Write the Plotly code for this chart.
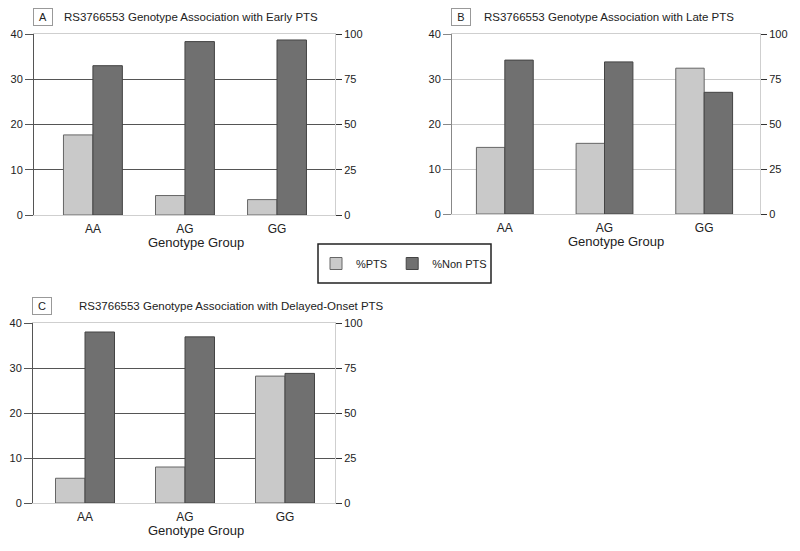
import plotly.graph_objects as go

genotypes = ["AA", "AG", "GG"]
early_pts = [17.7, 4.3, 3.4]
early_non = [82.5, 95.8, 96.7]
late_pts = [14.8, 15.7, 32.4]
late_non = [85.5, 84.5, 67.6]
delayed_pts = [5.5, 8.0, 28.2]
delayed_non = [95.0, 92.3, 72.0]
left_ticks = [0, 10, 20, 30, 40]
right_ticks = [0, 25, 50, 75, 100]

W, H = 800, 551
OFF = 8  # page body margin
light = "#c9c9c9"
dark = "#707070"
font = "Liberation Sans, Arial, sans-serif"


def px(v):
    return (v - OFF) / W


def py(v):
    return 1 - (v - OFF) / H


# panels: (x axis, left y, right y, pixel box, x range, bar width, grid colour, axis colour, letter, title, ..., title offset)
panels = [
    ("x", "y", "y2", (34, 335, 34, 215), [-0.64, 2.63], 0.32, "#555555", "#555555", "A",
     "RS3766553 Genotype Association with Early PTS", early_pts, early_non, 28),
    ("x2", "y3", "y4", (452, 760, 34, 214), [-0.53, 2.56], 0.285, "#c8c8c8", "#888888", "B",
     "RS3766553 Genotype Association with Late PTS", late_pts, late_non, 30),
    ("x3", "y5", "y6", (33, 335, 323, 503), [-0.52, 2.5], 0.295, "#555555", "#555555", "C",
     "RS3766553 Genotype Association with Delayed-Onset PTS", delayed_pts, delayed_non, 44),
]

fig = go.Figure()
layout = {}
annotations = []
first = True
for xa, ya, yb, box, xr, bw, gc, ac, letter, title, pts, non, tx in panels:
    x0, x1, top, bot = box
    fig.add_trace(go.Bar(x=genotypes, y=pts, xaxis=xa, yaxis=ya, name="%PTS",
                         marker=dict(color=light, line=dict(color="#666", width=1)),
                         width=bw, offset=-bw, showlegend=first, legendgroup="pts"))
    fig.add_trace(go.Bar(x=genotypes, y=non, xaxis=xa, yaxis=yb, name="%Non PTS",
                         marker=dict(color=dark, line=dict(color="#444", width=1)),
                         width=bw, offset=0, showlegend=first, legendgroup="non"))
    first = False
    xk = "xaxis" + xa[1:]
    layout[xk] = dict(domain=[px(x0), px(x1)], range=xr, anchor=ya, automargin=False,
                      showline=True, mirror=True, linecolor="#cfcfcf", linewidth=1,
                      ticks="outside", ticklen=3, tickcolor="rgba(0,0,0,0)",
                      showgrid=False, tickfont=dict(size=12, color="#222"))
    yk = "yaxis" + ya[1:]
    yk2 = "yaxis" + yb[1:]
    layout[yk] = dict(domain=[py(bot), py(top)], range=[0, 40], tickvals=left_ticks,
                      anchor=xa, automargin=False, showgrid=True, gridcolor=gc, gridwidth=1,
                      zeroline=False, showline=True, linecolor=ac, linewidth=1,
                      ticks="outside", ticklen=8, tickcolor=ac,
                      tickfont=dict(size=11, color="#222"))
    layout[yk2] = dict(range=[0, 100], tickvals=right_ticks, overlaying=ya, side="right",
                       anchor=xa, automargin=False, showgrid=False, zeroline=False, showline=True,
                       linecolor="#cfcfcf", linewidth=1, ticks="outside", ticklen=6,
                       tickcolor="#333", tickfont=dict(size=11, color="#222"))
    annotations.append(dict(text=letter, x=px(x0 - 1), y=py(top - 17), xref="paper", yref="paper",
                            xanchor="left", yanchor="middle", showarrow=False,
                            font=dict(size=11, color="#222"), bordercolor="#999", borderwidth=1,
                            borderpad=2, width=14, bgcolor="white"))
    annotations.append(dict(text=title, x=px(x0 + tx), y=py(top - 17), xref="paper", yref="paper",
                            xanchor="left", yanchor="middle", showarrow=False,
                            font=dict(size=11.5, color="#222")))
    mid = x0 + (x1 - x0) * (1 - xr[0]) / (xr[1] - xr[0])
    annotations.append(dict(text="Genotype Group", x=px(mid + 11), y=py(bot + 27), xref="paper",
                            yref="paper", xanchor="center", yanchor="middle", showarrow=False,
                            font=dict(size=13, color="#222")))

fig.update_layout(
    width=W, height=H,
    margin=dict(l=0, r=0, t=0, b=0),
    paper_bgcolor="white", plot_bgcolor="white",
    font=dict(family=font),
    barmode="overlay",
    annotations=annotations,
    shapes=[dict(type="rect", xref="paper", yref="paper", x0=px(318), x1=px(491),
                 y0=py(283), y1=py(244), line=dict(color="#222", width=1.5))],
    legend=dict(orientation="h", x=px(316), y=py(263.5), xanchor="left", yanchor="middle",
                borderwidth=0, bgcolor="rgba(0,0,0,0)",
                font=dict(size=11, color="#222"), tracegroupgap=0),
    **layout,
)

fig.write_html("out.html")
